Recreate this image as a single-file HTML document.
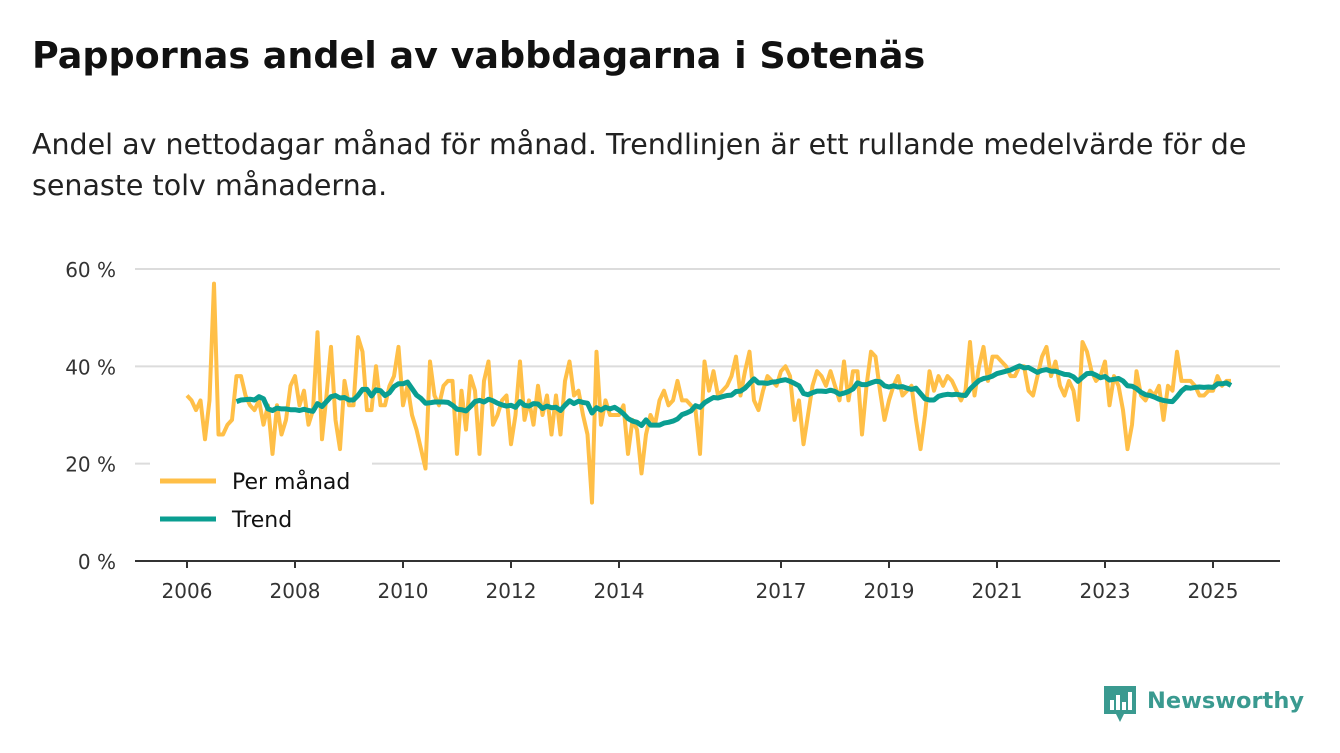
<!DOCTYPE html>
<html><head><meta charset="utf-8"><style>
body{margin:0;background:#fff;width:1340px;height:753px;overflow:hidden;font-family:"DejaVu Sans","Liberation Sans",sans-serif;color:#111}
h1{position:absolute;left:32px;top:34px;margin:0;font-size:36.5px;font-weight:bold;white-space:nowrap}
p{position:absolute;left:32px;top:124px;margin:0;font-size:28.5px;line-height:41px;width:1240px;color:#222}
svg{position:absolute;left:0;top:0;font-family:"DejaVu Sans","Liberation Sans",sans-serif}
</style></head><body>
<h1>Pappornas andel av vabbdagarna i Sotenäs</h1>
<p>Andel av nettodagar månad för månad. Trendlinjen är ett rullande medelvärde för de senaste tolv månaderna.</p>
<svg id="chart" width="1340" height="753"></svg>
<script>
const yTicks=[0,20,40,60];
const yTickLabels=["0 %","20 %","40 %","60 %"];
const xTicks=[2006,2008,2010,2012,2014,2017,2019,2021,2023,2025];
const startYear=2006;
const perMonth=[
34,33,31,33,25,33,57,26,26,28,29,38,
38,34,32,31,33,28,32,22,32,26,29,36,
38,32,35,28,31,47,25,34,44,29,23,37,
32,32,46,43,31,31,40,32,32,36,38,44,
32,36,30,27,23,19,41,34,32,36,37,37,
22,35,27,38,35,22,37,41,28,30,33,34,
24,30,41,29,33,28,36,30,34,26,34,26,
37,41,34,35,30,26,12,43,28,33,30,30,
30,32,22,29,27,18,26,30,28,33,35,32,
33,37,33,33,32,31,22,41,35,39,34,35,
36,38,42,34,39,43,33,31,35,38,37,36,
39,40,38,29,33,24,30,36,39,38,36,39,
36,33,41,33,39,39,26,36,43,42,35,29,
33,36,38,34,35,36,29,23,30,39,35,38,
36,38,37,35,33,35,45,34,40,44,37,42,
42,41,40,38,38,40,40,35,34,38,42,44,
38,41,36,34,37,35,29,45,43,39,37,38,
41,32,38,36,31,23,28,39,34,33,35,34,
36,29,36,35,43,37,37,37,36,34,34,35,
35,38,36,37,37];
const trendWindow=12;

const svg=document.getElementById('chart');
const NS='http://www.w3.org/2000/svg';
const x0=187,pxPerYear=54.0,yBase=561,pxPerPct=4.867;
const xs=t=>x0+(t-startYear)*pxPerYear;
const ys=v=>yBase-v*pxPerPct;
function mk(tag,attrs,parent){const e=document.createElementNS(NS,tag);for(const k in attrs)e.setAttribute(k,attrs[k]);(parent||svg).appendChild(e);return e;}

yTicks.forEach((v,i)=>{
  if(v>0){const g=mk('line',{x1:135,x2:1280,y1:ys(v),y2:ys(v),stroke:'#dcdcdc','stroke-width':2});
  
  }
  const t=mk('text',{x:116,y:ys(v)+8,'text-anchor':'end','font-size':20,fill:'#333'});
  t.textContent=yTickLabels[i];
  
  
});
const ax=mk('line',{x1:135,x2:1280,y1:yBase,y2:yBase,stroke:'#333','stroke-width':2});


xTicks.forEach(yr=>{
  const X=xs(yr);
  const tk=mk('line',{x1:X,x2:X,y1:yBase,y2:yBase+7,stroke:'#333','stroke-width':2});
  
  
  const t=mk('text',{x:X,y:598,'text-anchor':'middle','font-size':20,fill:'#333'});
  t.textContent=yr;
  
  
});
let d='';
perMonth.forEach((v,i)=>{d+=(i?'L':'M')+xs(startYear+i/12).toFixed(1)+','+ys(v).toFixed(1);});
const pl=mk('path',{d:d,fill:'none',stroke:'#ffbf47','stroke-width':4,'stroke-linejoin':'round'});


let td='';
for(let i=trendWindow-1;i<perMonth.length;i++){
  let s=0;for(let j=i-trendWindow+1;j<=i;j++)s+=perMonth[j];
  const v=s/trendWindow;
  td+=(i>trendWindow-1?'L':'M')+xs(startYear+i/12).toFixed(1)+','+ys(v).toFixed(1);
}
const tl=mk('path',{d:td,fill:'none',stroke:'#0a9e91','stroke-width':5,'stroke-linejoin':'round'});


const lb=mk('rect',{x:150,y:462,width:222,height:80,fill:'#fff'});


[['Per månad','#ffbf47',481],['Trend','#0a9e91',519]].forEach(([n,c,y])=>{
  const l=mk('line',{x1:160,x2:216,y1:y,y2:y,stroke:c,'stroke-width':5});
  
  
  const t=mk('text',{x:232,y:y+8,'font-size':22,fill:'#111'});
  t.textContent=n;
  
  
});
const lg=mk('g',{});


mk('path',{d:'M1104,686 h32 v28 h-12 l-4,8 l-4,-8 h-12 z',fill:'#3a9a90'},lg);
[[1110,700,4,10],[1116,695,4,15],[1122,702,4,8],[1128,692,4,18]].forEach(b=>mk('rect',{x:b[0],y:b[1],width:b[2],height:b[3],fill:'#fff'},lg));
const lt=mk('text',{x:1147,y:708,'font-size':22.5,'font-weight':'bold',fill:'#3a9a90'},lg);
lt.textContent='Newsworthy';
</script>
</body></html>
